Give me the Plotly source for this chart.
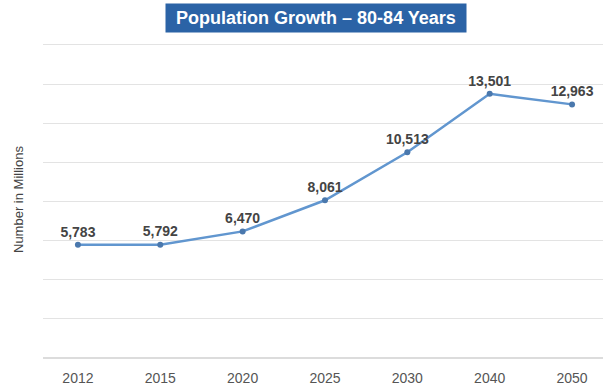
import plotly.graph_objects as go

years = ["2012", "2015", "2020", "2025", "2030", "2040", "2050"]
population = [5783, 5792, 6470, 8061, 10513, 13501, 12963]
title_text = "Population Growth – 80-84 Years"
y_title = "Number in Millions"

FONT = "Liberation Sans, Arial, sans-serif"

fig = go.Figure()
fig.add_trace(go.Scatter(
    x=years, y=population,
    mode="lines+markers+text",
    line=dict(color="#6196cf", width=2.5),
    marker=dict(color="#4a78ad", size=6),
    texttemplate="%{y:,}",
    textposition="top center",
    textfont=dict(family=FONT, size=14, color="#444444", weight="bold"),
    cliponaxis=False,
    hoverinfo="skip",
))

fig.update_layout(
    width=603, height=388,
    margin=dict(l=43, r=0, t=43, b=30),
    paper_bgcolor="white", plot_bgcolor="white",
    showlegend=False,
    xaxis=dict(
        type="category", range=[-0.424, 6.376],
        showgrid=False, zeroline=False, showline=False,
        ticks="", ticklabelstandoff=10,
        tickfont=dict(family=FONT, size=14, color="#555555"),
    ),
    yaxis=dict(
        range=[0, 16100], dtick=2000,
        showgrid=True, gridcolor="#e3e3e3", gridwidth=1,
        showticklabels=False, zeroline=True, zerolinecolor="#dcdcdc", zerolinewidth=2,
        ticks="",
    ),
    annotations=[
        dict(text="<b>" + title_text + "</b>", xref="paper", yref="paper",
             x=(316 - 43) / 560, y=(358 - 18) / 315, xanchor="center", yanchor="middle",
             showarrow=False, bgcolor="#2b63a6", width=298, height=26,
             font=dict(family=FONT, size=18, color="white")),
        dict(text=y_title, xref="paper", yref="paper",
             x=(18 - 43) / 560, y=(358 - 200) / 315, xanchor="center", yanchor="middle",
             textangle=-90, showarrow=False,
             font=dict(family=FONT, size=13, color="#444444")),
    ],
)

fig.write_html("out.html", config={"displayModeBar": False},
               post_script="document.body.style.margin='0';")
